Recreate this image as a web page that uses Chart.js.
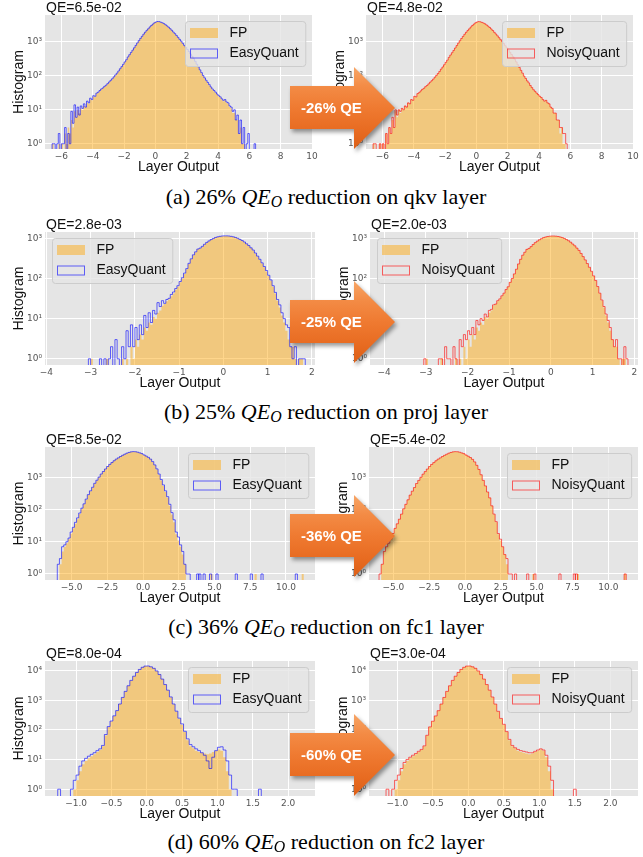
<!DOCTYPE html>
<html>
<head>
<meta charset="utf-8">
<script src="https://cdn.jsdelivr.net/npm/chart.js@4.4.1/dist/chart.umd.min.js"></script>
<style>
  html, body { margin: 0; padding: 0; background: #fff; }
  #fig { position: relative; width: 643px; height: 857px; overflow: hidden; }
  #fig canvas { position: absolute; }
  .arrow { position: absolute; left: 290px; width: 106px; height: 82px;
           filter: drop-shadow(2px 3px 2px rgba(0,0,0,0.4)); }
  .arrow .shape { position: absolute; left: 0; top: 0; width: 106px; height: 82px;
           background: linear-gradient(180deg, #f7a566 0%, #f38b45 24%, #ef7a31 50%, #e86c22 76%, #dd5f16 100%);
           clip-path: polygon(0 19px, 64px 19px, 64px 0, 105px 41px, 64px 82px, 64px 62px, 0 62px); }
  .arrow-text { position: absolute; left: 301px; height: 18px; line-height: 18px;
           font: bold 15px "Liberation Sans", Arial, sans-serif; color: #fff; white-space: nowrap; }
  .caption { position: absolute; left: 0; width: 652px; text-align: center; white-space: nowrap;
           font-family: "Liberation Serif", "Times New Roman", serif; font-size: 22px; line-height: 22px; color: #000; }
  .caption .o { font-size: 0.72em; position: relative; top: 0.22em; }
</style>
</head>
<body>
<div id="fig"></div>
<script>
/* ---- histogram data (counts per bin) ---- */
const FLOOR = 0.01;   // empty bins sit below the log axis

// (a) qkv layer, bins of 0.1 from -6.6
const qkvBinStart = -6.6, qkvBinWidth = 0.1;
const qkvFP = [
  1,0,0,0,1,0,1,0,2,1,
  3,2,5,3,9,6,10,8,11,10,
  13,12,16,15,20,19,25,24,30,32,
  36,40,43,48,52,58,65,72,80,91,
  103,117,135,158,182,212,250,290,350,410,
  480,560,660,780,920,1080,1260,1450,1680,1920,
  2180,2420,2750,3050,3350,3650,3850,3950,3900,3750,
  3600,3400,3150,2900,2650,2400,2150,1900,1700,1500,
  1320,1150,1010,880,760,660,570,490,420,360,
  305,255,210,175,143,118,97,83,70,61,
  52,45,39,35,31,28,25,23,20,18,
  19,16,15,12,11,8,8,5,5,2,
  3,1,1,0,0,0,0,0,0,0];
const qkvEasy = [
  1,1,0,1,2,0,1,1,3,0,
  2,1,9,4,14,6,12,7,13,11,
  15,12,18,16,22,20,26,25,31,33,
  37,41,44,49,53,59,66,74,82,93,
  106,120,139,162,187,218,257,298,360,420,
  490,570,670,790,930,1090,1270,1460,1690,1930,
  2190,2430,2760,3060,3360,3660,3870,3980,3950,3800,
  3650,3450,3200,2950,2700,2450,2200,1950,1750,1550,
  1360,1190,1050,910,790,690,600,515,440,378,
  320,268,220,183,150,124,102,87,74,64,
  55,47,41,37,33,29,26,24,21,19,
  20,17,16,13,12,9,10,5,7,2,
  5,1,3,0,1,2,0,0,0,1];
const qkvNoisy = [
  1,1,0,0,1,0,1,0,2,1,
  3,2,6,3,10,7,10,9,11,10,
  13,12,16,15,20,19,25,24,30,32,
  36,40,43,48,52,58,65,72,80,91,
  103,117,135,158,182,212,250,290,350,410,
  480,560,660,780,920,1080,1260,1450,1680,1920,
  2180,2420,2750,3050,3350,3650,3860,3960,3910,3760,
  3610,3410,3160,2910,2660,2410,2160,1910,1710,1510,
  1330,1160,1020,890,770,665,575,495,425,365,
  308,258,212,177,145,120,98,84,71,62,
  52,45,39,35,31,28,25,23,20,18,
  19,16,15,12,11,8,8,5,5,3,
  3,2,2,1,0,0,0,0,0,0];
const qkvXTicks = [-6,-4,-2,0,2,4,6,8,10];
const qkvYTicks = [1,10,100,1000];

// (b) proj layer, bins of 0.05 from -3.05
const projBinStart = -3.05, projBinWidth = 0.05;
const projFP = [
  0,1,0,0,0,0,0,0,1,0,
  0,0,0,0,0,1,0,1,0,2,
  1,3,2,4,3,6,5,8,7,11,
  10,14,16,21,23,27,30,36,42,52,
  62,80,100,130,170,230,300,380,450,530,
  560,620,700,780,850,920,980,1040,1080,1110,
  1130,1140,1140,1130,1110,1080,1040,990,930,870,
  800,720,650,570,500,420,350,290,235,190,
  150,115,88,62,42,28,19,12,8,5,
  3,2,2,1,0,1,1,0,0,0];
const projEasy = [
  1,0,0,0,0,1,0,1,0,1,
  2,0,3,1,0,2,1,5,2,7,
  2,6,3,7,4,12,6,14,8,16,
  13,25,20,28,24,30,32,40,46,56,
  66,84,104,136,176,238,308,388,460,540,
  570,630,710,790,860,930,990,1050,1090,1120,
  1140,1150,1150,1140,1120,1090,1050,1000,940,880,
  810,730,660,580,510,430,360,300,245,198,
  158,120,92,66,45,30,22,14,10,7,
  6,2,1,2,0,1,1,1,0,0];
const projNoisy = [
  1,0,0,0,0,0,0,1,1,0,
  2,1,1,0,2,1,0,3,2,4,
  3,5,4,6,4,9,7,10,9,13,
  11,16,17,22,23,28,31,37,43,53,
  62,80,100,130,170,230,300,380,450,530,
  560,620,700,780,850,920,980,1040,1080,1110,
  1130,1140,1140,1130,1110,1080,1040,990,930,870,
  800,720,650,570,500,420,350,290,235,190,
  151,116,89,63,43,29,20,13,9,6,
  3,2,3,1,1,0,2,1,0,0];
const projXTicks = [-4,-3,-2,-1,0,1,2];
const projYTicks = [1,10,100,1000];

// (c) fc1 layer, bins of 0.15 from -6.0
const fc1BinStart = -6.0, fc1BinWidth = 0.15;
const fc1FP    = [0,2,5,7,9,12,18,26,36,50,72,105,145,200,280,370,480,640,800,1000,1250,1500,1800,2150,2500,2850,3250,3650,4000,4400,4800,5200,5600,5900,6150,6250,6200,6000,5700,5400,4900,4500,4100,3600,3000,2350,1750,1200,800,540,350,230,130,70,40,17,11,7,4,2,0,0];
const fc1Easy  = [2,3,7,8,10,13,20,28,40,55,78,110,150,210,290,380,490,650,810,1010,1260,1510,1810,2160,2510,2860,3260,3660,4010,4410,4810,5210,5610,5910,6160,6260,6210,6010,5720,5420,4930,4540,4150,3660,3070,2420,1820,1260,850,580,380,250,145,80,48,20,14,8,5,2,1,1];
const fc1Noisy = [1,2,5,7,9,12,18,26,36,50,72,105,145,200,280,370,480,640,800,1000,1250,1500,1800,2150,2500,2850,3250,3650,4000,4400,4800,5200,5600,5900,6150,6250,6200,6000,5700,5400,4900,4500,4100,3600,3000,2350,1750,1200,800,540,350,230,130,72,42,18,12,7,4,3,1,1];
const fc1FPOutliers    = [4.7, 7.8, 11.1];            // single-count bins, left edges
const fc1EasyOutliers  = [3.75, 3.9, 4.2, 4.65, 5.1, 6.45, 7.5, 8.25, 10.65];
const fc1NoisyOutliers = [3.45, 4.3, 4.8, 6.55, 7.55, 7.7, 11.1];
const fc1XTicks = [-5,-2.5,0,2.5,5,7.5,10];
const fc1YTicks = [1,10,100,1000];

// (d) fc2 layer, bins of 0.04 from -1.08
const fc2BinStart = -1.08, fc2BinWidth = 0.04;
const fc2FP    = [0,1,2,4,7,9,11,13,15,18,21,28,65,125,195,295,445,745,1250,1990,3080,4700,6500,8700,11000,13000,14300,14400,13500,12000,9800,7400,5200,3400,2200,1280,740,420,240,150,85,45,28,24,20,18,17,16,15,16,18,20,22,20,12,4,1,0,0];
const fc2Easy  = [1,2,3,6,9,11,13,15,17,20,23,30,70,130,200,300,450,750,1250,2000,3100,4700,6500,8700,11000,13000,14300,14400,13500,12000,9800,7400,5200,3400,2200,1300,750,430,250,160,90,50,32,27,23,20,17,14,9,5,12,20,26,27,21,9,3,1,1];
const fc2Noisy = [1,2,3,5,8,10,12,14,16,19,22,29,66,127,197,297,447,747,1250,2000,3090,4700,6500,8700,11000,13000,14300,14400,13500,12000,9800,7400,5200,3400,2200,1290,745,425,245,155,88,48,30,25,22,20,19,18,17,17,19,21,23,21,14,6,2,0,0];
const fc2EasyOutliers  = [-1.26, 1.58];
const fc2NoisyOutliers = [-1.16, 1.48];
const fc2XTicks = [-1,-0.5,0,0.5,1,1.5,2];
const fc2YTicks = [1,10,100,1000,10000];

const supDigits = ['\u2070','\u00b9','\u00b2','\u00b3','\u2074'];
const qeTitles  = [['QE=6.5e-02','QE=4.8e-02'], ['QE=2.8e-03','QE=2.0e-03'], ['QE=8.5e-02','QE=5.4e-02'], ['QE=8.0e-04','QE=3.0e-04']];
const arrowLabels = ['-26% QE', '-25% QE', '-36% QE', '-60% QE'];
const captionPct  = ['26%', '25%', '36%', '60%'];
const layerNames  = ['qkv', 'proj', 'fc1', 'fc2'];

/* ---- style ---- */
const FONT = '"Liberation Sans", Arial, sans-serif';
const TICK_FONT = '"DejaVu Sans", sans-serif';
const FP_FILL = 'rgba(255,165,0,0.45)';
const EASY_LINE = 'rgba(0,0,255,0.6)';
const NOISY_LINE = 'rgba(255,0,0,0.6)';
const PLOT_BG = '#e5e5e5';
const L = 45, T = 15, R = 10, B = 27;   // room around each plot area

/* ---- layout per row ---- */
const rows = [
  { gy: [15, 149], start: qkvBinStart, width: qkvBinWidth, fp: qkvFP, fpOut: [], yMin: 0.71, yMax: 6200,
    yTicks: qkvYTicks, xTicks: qkvXTicks, dec: 0, legend: 'right', arrowTop: 67, capTop: 186,
    left:  { gx: [45, 312],  x: [-7.05, 10], q: qkvEasy,  qOut: [] },
    right: { gx: [366, 633], x: [-7.05, 10], q: qkvNoisy, qOut: [] } },
  { gy: [232, 365], start: projBinStart, width: projBinWidth, fp: projFP, fpOut: [], yMin: 0.71, yMax: 1435,
    yTicks: projYTicks, xTicks: projXTicks, dec: 0, legend: 'left', arrowTop: 281, capTop: 401,
    left:  { gx: [45, 315],  x: [-4.03, 2.07], q: projEasy,  qOut: [] },
    right: { gx: [370, 638], x: [-4.34, 2.09], q: projNoisy, qOut: [] } },
  { gy: [447, 580], start: fc1BinStart, width: fc1BinWidth, fp: fc1FP, fpOut: fc1FPOutliers, yMin: 0.65, yMax: 8700,
    yTicks: fc1YTicks, xTicks: fc1XTicks, dec: 1, legend: 'right', arrowTop: 495, capTop: 616,
    left:  { gx: [45, 315],  x: [-6.86, 12.03], q: fc1Easy,  qOut: fc1EasyOutliers },
    right: { gx: [369, 638], x: [-6.7, 12.07],  q: fc1Noisy, qOut: fc1NoisyOutliers } },
  { gy: [661, 796], start: fc2BinStart, width: fc2BinWidth, fp: fc2FP, fpOut: [], yMin: 0.59, yMax: 21200,
    yTicks: fc2YTicks, xTicks: fc2XTicks, dec: 1, legend: 'right', arrowTop: 714, capTop: 831,
    left:  { gx: [45, 315],  x: [-1.44, 2.38], q: fc2Easy,  qOut: fc2EasyOutliers },
    right: { gx: [369, 638], x: [-1.40, 2.39], q: fc2Noisy, qOut: fc2NoisyOutliers } }
];

/* step outline points: each value holds from its left edge to the next one */
function histPoints(start, width, counts, outliers) {
  const pts = [];
  const spike = x0 => pts.push({ x: x0, y: FLOOR }, { x: x0, y: 1 }, { x: x0 + width, y: FLOOR });
  outliers.filter(x0 => x0 < start).forEach(spike);
  pts.push({ x: start, y: FLOOR });
  counts.forEach((c, i) => pts.push({ x: start + i * width, y: c > 0 ? c : FLOOR }));
  pts.push({ x: start + counts.length * width, y: FLOOR });
  outliers.filter(x0 => x0 >= start).forEach(spike);
  return pts;
}

function fmtTick(v, dec) {
  const s = Math.abs(v).toFixed(dec);
  return v < 0 ? '\u2212' + s : s;
}

/* plot background, QE title and in-axes legend */
const decor = {
  id: 'decor',
  beforeDraw(chart) {
    const { ctx, chartArea: a } = chart;
    ctx.save();
    ctx.fillStyle = PLOT_BG;
    ctx.fillRect(a.left, a.top, a.right - a.left, a.bottom - a.top);
    ctx.restore();
  },
  afterDraw(chart, args, o) {
    const { ctx, chartArea: a } = chart;
    ctx.save();
    ctx.font = '14px ' + FONT;
    ctx.fillStyle = '#111';
    ctx.textAlign = 'left';
    ctx.textBaseline = 'alphabetic';
    ctx.fillText(o.title, a.left + 1, a.top - 3);

    const tw = Math.max(ctx.measureText('FP').width, ctx.measureText(o.qName).width);
    const w = 44 + tw + 7, h = 45;
    const x = Math.round(o.legend === 'left' ? a.left + 7 : a.right - 7 - w) + 0.5;
    const y = Math.round(a.top + 6) + 0.5;
    ctx.beginPath();
    if (ctx.roundRect) ctx.roundRect(x, y, w, h, 3); else ctx.rect(x, y, w, h);
    ctx.fillStyle = 'rgba(229,229,229,0.8)';
    ctx.fill();
    ctx.strokeStyle = '#cccccc';
    ctx.lineWidth = 1;
    ctx.stroke();
    const r1 = y + 11.5, r2 = y + 32;
    ctx.fillStyle = FP_FILL;
    ctx.fillRect(x + 4.5, r1 - 5, 28, 10);
    ctx.strokeStyle = o.qColor;
    ctx.strokeRect(x + 5, r2 - 4.5, 27, 9);
    ctx.fillStyle = '#111';
    ctx.textBaseline = 'middle';
    ctx.fillText('FP', x + 44, r1);
    ctx.fillText(o.qName, x + 44, r2);
    ctx.restore();
  }
};

const fig = document.getElementById('fig');

function makePanel(row, side, title, qName, qColor) {
  const W = side.gx[1] - side.gx[0] + L + R;
  const H = row.gy[1] - row.gy[0] + T + B;
  const canvas = document.createElement('canvas');
  canvas.width = W; canvas.height = H;
  canvas.style.left = (side.gx[0] - L) + 'px';
  canvas.style.top = (row.gy[0] - T) + 'px';
  canvas.style.width = W + 'px';
  canvas.style.height = H + 'px';
  fig.appendChild(canvas);

  const tickStyle = { font: { family: TICK_FONT, size: 9 }, color: '#555' };
  const titleStyle = { display: true, font: { family: FONT, size: 14 }, color: '#111' };

  new Chart(canvas, {
    type: 'line',
    data: {
      datasets: [
        { label: 'FP', data: histPoints(row.start, row.width, row.fp, row.fpOut),
          stepped: true, fill: 'start', backgroundColor: FP_FILL, borderWidth: 0,
          pointRadius: 0, order: 1, clip: 0 },
        { label: qName, data: histPoints(row.start, row.width, side.q, side.qOut),
          stepped: true, fill: false, borderColor: qColor, borderWidth: 1,
          pointRadius: 0, order: 0, clip: 0 }
      ]
    },
    options: {
      responsive: false,
      animation: false,
      events: [],
      layout: { padding: { left: 0, top: T, right: R, bottom: 0 } },
      plugins: {
        legend: { display: false },
        tooltip: { enabled: false },
        decor: { title, qName, qColor, legend: row.legend }
      },
      scales: {
        x: {
          type: 'linear', min: side.x[0], max: side.x[1],
          afterBuildTicks: s => { s.ticks = row.xTicks.map(v => ({ value: v })); },
          afterFit: s => { s.height = B; s.paddingLeft = 0; s.paddingRight = 0; },
          ticks: { ...tickStyle, autoSkip: false, maxRotation: 0, padding: 2,
                   callback: v => fmtTick(v, row.dec) },
          grid: { color: '#ffffff', lineWidth: 1, drawTicks: false },
          border: { display: false },
          title: { ...titleStyle, text: 'Layer Output', padding: { top: 0, bottom: 0 } }
        },
        y: {
          type: 'logarithmic', min: row.yMin, max: row.yMax,
          afterBuildTicks: s => { s.ticks = row.yTicks.map(v => ({ value: v })); },
          afterFit: s => { s.width = L; s.paddingTop = 0; s.paddingBottom = 0; },
          ticks: { ...tickStyle, padding: 3,
                   callback: v => '10' + supDigits[Math.round(Math.log10(v))] },
          grid: { color: '#ffffff', lineWidth: 1, drawTicks: false },
          border: { display: false },
          title: { ...titleStyle, text: 'Histogram', padding: { top: 11, bottom: 0 } }
        }
      }
    },
    plugins: [decor]
  });
}

rows.forEach((row, i) => {
  makePanel(row, row.left, qeTitles[i][0], 'EasyQuant', EASY_LINE);
  makePanel(row, row.right, qeTitles[i][1], 'NoisyQuant', NOISY_LINE);

  const arrow = document.createElement('div');
  arrow.className = 'arrow';
  arrow.style.top = row.arrowTop + 'px';
  arrow.innerHTML = '<div class="shape"></div>';
  fig.appendChild(arrow);

  const txt = document.createElement('div');
  txt.className = 'arrow-text';
  txt.style.top = (row.arrowTop + 32) + 'px';
  txt.textContent = arrowLabels[i];
  fig.appendChild(txt);

  const cap = document.createElement('div');
  cap.className = 'caption';
  cap.style.top = row.capTop + 'px';
  cap.innerHTML = '(' + 'abcd'[i] + ') ' + captionPct[i] + ' <i>QE<span class="o">O</span></i> reduction on ' +
                  layerNames[i] + ' layer';
  fig.appendChild(cap);
});
</script>
</body>
</html>
